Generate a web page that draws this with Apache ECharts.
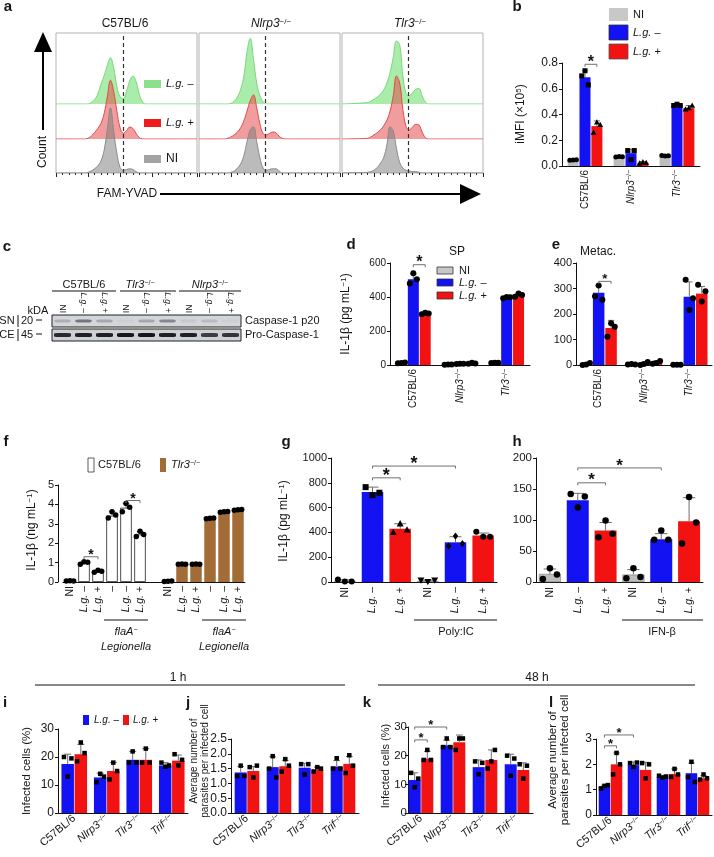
<!DOCTYPE html>
<html><head><meta charset="utf-8">
<script src="https://cdn.jsdelivr.net/npm/echarts@6/dist/echarts.min.js"></script>
<style>html,body{margin:0;padding:0;background:#fff}#c{width:714px;height:857px}</style>
</head><body><div id="c"></div>
<script>
// ---------------- DATA ----------------
// panel a: flow histograms (log decades bins, relative counts)
const aStrains = ['C57BL/6', 'Nlrp3−/−', 'Tlr3−/−'];
const aBins = [0,0.8,0.9,1.0,1.1,1.2,1.3,1.4,1.5,1.6,1.7,1.8,1.9,2.0,2.1,2.2,2.3,2.4,2.5,2.6,2.7,2.8,2.9,3.0,3.1,3.2,4.4];
const aGreen = [
  [0, 0,0,0,2,6,14,28,40,55,66,52,25,10,8,18,33,40,32,14,3,0,0,0,0,0, 0],
  [0, 0,0,1,4,10,21,40,75,94,64,30,12,3,0,0,0,0,0,0,0,0,0,0,0,0, 0],
  [0, 2,4,7,10,14,20,30,45,67,90,85,40,15,12,16,21,22,12,3,0,0,0,0,0,0, 0]
];
const aRed = [
  [0, 0,0,1,4,9,15,22,36,60,84,68,40,16,8,12,17,15,8,2,0,0,0,0,0,0, 0],
  [0, 0,1,3,6,10,16,26,40,55,63,45,22,8,6,8,10,9,4,1,0,0,0,0,0,0, 0],
  [0, 1,3,6,9,13,19,27,40,62,90,80,42,18,13,17,21,20,10,2,0,0,0,0,0,0, 0]
];
const aGrey = [
  [0, 0,0,1,3,6,10,17,32,62,93,60,28,8,4,5,6,5,2,0,0,0,0,0,0,0, 0],
  [0, 0,0,1,3,7,13,25,45,62,66,45,22,7,4,5,6,6,3,0,0,0,0,0,0,0, 0],
  [0, 1,2,4,8,14,22,40,66,60,35,15,7,4,3,2,2,1,0,0,0,0,0,0,0,0, 0]
];
const aGate = [2.1, 2.07, 2.07];

// panel b
const bCats = ['C57BL/6', 'Nlrp3−/−', 'Tlr3−/−'];
const bNI = [0.045, 0.072, 0.080], bNISd = [0.004, 0.004, 0.006];
const bNIPts = [[0.044,0.046,0.048],[0.070,0.074,0.072],[0.082,0.078,0.080]];
const bNeg = [0.69, 0.10, 0.47], bNegSd = [0.05, 0.03, 0.01];
const bNegPts = [[0.70,0.74,0.63],[0.12,0.05,0.12],[0.47,0.48,0.47]];
const bPos = [0.31, 0.025, 0.45], bPosSd = [0.04, 0.01, 0.02];
const bPosPts = [[0.26,0.34,0.32],[0.02,0.03,0.025],[0.44,0.45,0.47]];

// panel c: blot band intensities (lanes)
const cLanes = ['NI','L.g. –','L.g. +','NI','L.g. –','L.g. +','NI','L.g. –','L.g. +'];
const cKDa = [20, 45];
const cP20 = [0.30, 0.75, 0.35, 0.05, 0.35, 0.6, 0.1, 0.2, 0.05];
const cPro = [0.85, 0.9, 0.9, 0.95, 0.95, 0.9, 0.9, 0.75, 0.8];

// panel d (SP)
const dCats = ['C57BL/6', 'Nlrp3−/−', 'Tlr3−/−'];
const dNI = [12, 3, 13], dNISd = [2, 1, 1], dNIPts = [[10,12,15],[2,3,3],[12,13,13]];
const dNeg = [505, 7, 398], dNegSd = [30, 1, 3], dNegPts = [[480,540,505],[6,8,7],[392,400,398]];
const dPos = [303, 10, 410], dPosSd = [5, 3, 12], dPosPts = [[298,308,303],[8,13,9],[402,420,412]];

// panel e (Metac.)
const eNI = [3, 3, 1], eNISd = [4, 2, 0], eNIPts = [[0,2,8],[2,4,2],[1,1,1]];
const eNeg = [283, 5, 268], eNegSd = [28, 6, 58], eNegPts = [[270,312,256],[0,4,12],[334,216,262]];
const ePos = [145, 10, 280], ePosSd = [30, 6, 28], ePosPts = [[111,164,150],[5,8,16],[315,249,289]];

// panel f
const fCats = ['NI','L.g. –','L.g. +','–','L.g. –','L.g. +','','NI','L.g. –','L.g. +','–','L.g. –','L.g. +'];
const fStrain = [0,0,0,0,0,0,0,1,1,1,1,1,1];
const fVals = [0.05,0.97,0.55,3.42,3.83,2.45,null,0.04,0.92,0.92,3.28,3.62,3.72];
const fSd = [0.01,0.07,0.05,0.2,0.22,0.14,null,0.01,0.01,0.01,0.02,0.03,0.03];
const fPts = [[0.05,0.06,0.05],[0.92,1.05,1.02],[0.5,0.6,0.55],[3.3,3.62,3.45],[3.62,4.05,3.85],[2.35,2.62,2.45],null,
              [0.03,0.04,0.05],[0.92,0.93,0.92],[0.92,0.93,0.92],[3.26,3.28,3.3],[3.6,3.62,3.64],[3.7,3.72,3.74]];

// panel g (Poly:IC)
const gCats = ['NI','L.g. –','L.g. +','NI','L.g. –','L.g. +'];
const gCond = [0,1,2,0,1,2];
const gVals = [10, 725, 430, 8, 320, 375];
const gSd = [8, 40, 40, 6, 45, 20];
const gPts = [[20,5,5],[765,700,720],[400,470,420],[15,3,15],[290,370,310],[405,365,365]];
const gShapes = ['circle','rect','triangle','triangleDown','diamond','circle'];

// panel h (IFN-β)
const hCats = ['NI','L.g. –','L.g. +','NI','L.g. –','L.g. +'];
const hCond = [0,1,2,0,1,2];
const hVals = [13, 132, 83, 12, 69, 98];
const hSd = [8, 11, 13, 8, 9, 38];
const hPts = [[5,22,12],[142,120,138],[72,99,78],[6,22,8],[68,83,68],[62,137,96]];

// panels i-l
const ijCats = ['C57BL/6','Nlrp3−/−','Tlr3−/−','Trif−/−'];
const iNeg = [17.5, 12.7, 19, 17], iNegSd = [3.5, 1.5, 3, 1];
const iNegPts = [[20,13,19.5],[11,14,13],[18,22,18],[18,16.5,17]];
const iPos = [21, 15, 19, 18.7], iPosSd = [3.5, 3, 4, 2];
const iPosPts = [[18.5,25.2,21.4],[12,18,15],[18,23,18],[21,17,19]];

const jNeg = [1.37, 1.55, 1.53, 1.57], jNegSd = [0.2, 0.35, 0.15, 0.2];
const jNegPts = [[1.25,1.6,1.25],[1.5,1.92,1.2],[1.65,1.3,1.65],[1.5,1.85,1.5]];
const jPos = [1.42, 1.58, 1.47, 1.66], jPosSd = [0.15, 0.2, 0.08, 0.25];
const jPosPts = [[1.55,1.2,1.6],[1.4,1.82,1.6],[1.4,1.55,1.5],[1.35,1.95,1.6]];

const kNeg = [11.5, 23.6, 16, 17], kNegSd = [2.5, 1.8, 2.5, 3.5];
const kNegPts = [[14,9,12],[23,26,23],[18,13.5,17.5],[20,13,19]];
const kPos = [19, 24.7, 18.5, 15], kPosSd = [2.5, 2.5, 3.5, 2.5];
const kPosPts = [[18.5,22,18.5],[22,26,26],[15.5,18,22],[17,12,16.5]];

const lNeg = [1.12, 1.97, 1.5, 1.65], lNegSd = [0.05, 0.12, 0.05, 0.4];
const lNegPts = [[1.05,1.15,1.18],[2.05,1.9,2.07],[1.55,1.48,1.52],[1.5,2.1,1.3]];
const lPos = [2.0, 1.78, 1.62, 1.45], lPosSd = [0.45, 0.3, 0.2, 0.1];
const lPosPts = [[1.6,2.45,2.0],[2.05,1.45,2.0],[1.5,1.82,1.6],[1.4,1.6,1.45]];

// ---------------- STYLE ----------------
const FONT = '"Liberation Sans", Arial, Helvetica, sans-serif';
const TXT = '#161616';
const C_NI = '#bdbdbd', C_NEG = '#1212f2', C_POS = '#f21212', C_BROWN = '#a36c37';
const condStyle = [
  {color:C_NI, borderColor:'#777', borderWidth:0.6},
  {color:C_NEG}, {color:C_POS}
];
const strainStyle = [{color:'#ffffff', borderColor:'#222', borderWidth:0.8}, {color:C_BROWN}];

function richFor(fs){
  return {
    i:{fontStyle:'italic', fontSize:fs, fontFamily:FONT, color:TXT},
    s:{fontSize:Math.round(fs*0.66), fontFamily:FONT, color:TXT, verticalAlign:'top'}
  };
}
function fmt(s){
  if (!s) return '';
  const m = s.match(/^(.*)−\/−$/);
  if (m) return '{i|' + m[1] + '}{s|−/−}';
  if (s.indexOf('L.g.') === 0) return '{i|L.g.}' + s.slice(4);
  return s;
}
function fmtBlot(s){ return fmt(s).replace('} ', '}\u2009'); }

const grids = [], xAxes = [], yAxes = [], series = [], graphic = [];
function addGrid(rect, xa, ya){
  grids.push(Object.assign({outerBoundsMode:'none', containLabel:false}, rect));
  const gi = grids.length - 1;
  xAxes.push(Object.assign({gridIndex:gi}, xa));
  yAxes.push(Object.assign({gridIndex:gi}, ya));
  return gi;
}
function T(text, x, y, fs, o){
  o = o || {};
  return {type:'text', x:x, y:y, rotation:o.rot||0, silent:true, z:20,
    style:{text:text, fill:TXT, fontSize:fs, fontFamily:FONT, fontWeight:o.bold?'bold':'normal',
      fontStyle:o.italic?'italic':'normal', align:o.align||'center', verticalAlign:'middle',
      lineHeight:o.lh||undefined, rich:richFor(fs)}};
}
function L(x1,y1,x2,y2,w,col){
  return {type:'line', silent:true, z:20, shape:{x1:x1,y1:y1,x2:x2,y2:y2}, style:{stroke:col||'#111', lineWidth:w||1}};
}
function R(x,y,w,h,fill,stroke){
  return {type:'rect', silent:true, z:20, shape:{x:x,y:y,width:w,height:h}, style:{fill:fill, stroke:stroke||null, lineWidth:stroke?0.8:0}};
}
function marker(shape, x, y, s){
  const st = {fill:'#000'};
  if (shape === 'rect') return {type:'rect', shape:{x:x-s/2, y:y-s/2, width:s, height:s}, style:st};
  if (shape === 'triangle') return {type:'polygon', shape:{points:[[x,y-s*0.62],[x-s*0.58,y+s*0.45],[x+s*0.58,y+s*0.45]]}, style:st};
  if (shape === 'triangleDown') return {type:'polygon', shape:{points:[[x,y+s*0.62],[x-s*0.58,y-s*0.45],[x+s*0.58,y-s*0.45]]}, style:st};
  if (shape === 'diamond') return {type:'polygon', shape:{points:[[x,y-s*0.6],[x+s*0.45,y],[x,y+s*0.6],[x-s*0.45,y]]}, style:st};
  return {type:'circle', shape:{cx:x, cy:y, r:s/2}, style:st};
}
function offsetOf(P, s){ const n = P.series.length; return (s - (n-1)/2) * P.bw * (1 + P.gap); }
function dotsRender(P){
  return function(params, api){
    const c = api.value(0), s = api.value(1);
    const S = P.series[s];
    const v = S.vals[c];
    const base = api.coord([c, v]);
    const x = base[0] + offsetOf(P, s);
    const ch = [];
    const sd = S.sd && S.sd[c];
    if (sd) {
      const top = api.coord([c, v + sd])[1];
      ch.push({type:'line', shape:{x1:x, y1:base[1], x2:x, y2:top}, style:{stroke:'#6e6e6e', lineWidth:1}});
      ch.push({type:'line', shape:{x1:x-P.bw*0.28, y1:top, x2:x+P.bw*0.28, y2:top}, style:{stroke:'#6e6e6e', lineWidth:1}});
    }
    const pts = S.pts && S.pts[c];
    if (pts) pts.forEach(function(p, k){
      const y = api.coord([c, p])[1];
      const px = x + (k - (pts.length-1)/2) * P.bw * P.jitter;
      const shape = Array.isArray(S.shape) ? S.shape[c] : S.shape;
      ch.push(marker(shape, px, y, P.dot));
    });
    return {type:'group', children:ch};
  };
}
function sigRender(P){
  return function(params, api){
    const c1 = api.value(0), s1 = api.value(1), c2 = api.value(2), s2 = api.value(3), yv = api.value(4);
    const p1 = api.coord([c1, yv]), p2 = api.coord([c2, yv]);
    const x1 = p1[0] + offsetOf(P, s1), x2 = p2[0] + offsetOf(P, s2), y = p1[1];
    const st = {stroke:'#707070', lineWidth:1};
    return {type:'group', children:[
      {type:'line', shape:{x1:x1, y1:y, x2:x2, y2:y}, style:st},
      {type:'line', shape:{x1:x1, y1:y, x2:x1, y2:y+2.5}, style:st},
      {type:'line', shape:{x1:x2, y1:y, x2:x2, y2:y+2.5}, style:st},
      {type:'text', x:(x1+x2)/2, y:y - P.star*0.12, style:{text:'*', fill:'#111', fontSize:P.star, fontWeight:'bold', fontFamily:FONT, align:'center', verticalAlign:'middle'}}
    ]};
  };
}
function barPanel(P){
  const gi = addGrid(P.grid, {
    type:'category', data:P.cats, boundaryGap:true,
    axisLine:{show:true, lineStyle:{color:'#111', width:1}},
    axisTick:{show:false}, splitLine:{show:false},
    axisLabel:{interval:0, rotate:P.rotate, fontSize:P.xfs, fontFamily:FONT, color:TXT, margin:P.xmargin||4, formatter:fmt, rich:richFor(P.xfs)}
  }, {
    type:'value', min:P.y.min, max:P.y.max, interval:P.y.interval, offset:P.yOffset||0,
    axisLine:{show:true, lineStyle:{color:'#111', width:1}},
    axisTick:{show:true, length:3, lineStyle:{color:'#111'}},
    splitLine:{show:false},
    axisLabel:{fontSize:P.y.fs, fontFamily:FONT, color:TXT, margin:P.y.margin||4, formatter:function(v){return v.toFixed(P.y.dec||0);}}
  });
  P.series.forEach(function(S){
    series.push({type:'bar', name:S.name, xAxisIndex:gi, yAxisIndex:gi, barWidth:P.bw, barGap:(P.gap*100)+'%',
      silent:true, z:2, animation:false,
      itemStyle:{color:S.color||'#ccc', borderColor:S.border||'#000', borderWidth:S.border?0.8:0},
      data:S.vals.map(function(v,c){ return v == null ? '-' : (S.styles ? {value:v, itemStyle:S.styles[c]} : v); })});
  });
  const dd = [];
  P.cats.forEach(function(_, c){ P.series.forEach(function(S, s){ if (S.vals[c] != null) dd.push([c, s, S.vals[c]]); }); });
  series.push({type:'custom', xAxisIndex:gi, yAxisIndex:gi, data:dd, encode:{x:0, y:2}, renderItem:dotsRender(P), z:5, silent:true, clip:false, animation:false});
  if (P.sig) series.push({type:'custom', xAxisIndex:gi, yAxisIndex:gi, data:P.sig, encode:{x:0, y:4}, renderItem:sigRender(P), z:6, silent:true, clip:false, animation:false});
  return gi;
}

// ---------------- PANEL a ----------------
const aLeft = [56, 199, 342];
const hidX = {type:'value', min:0, max:4.4, show:false};
function curve(gi, data, line, area, extra){
  return Object.assign({type:'line', xAxisIndex:gi, yAxisIndex:gi, smooth:0.4, symbol:'none', silent:true, animation:false,
    data:aBins.map(function(b,i){ return [b, data[i]]; }),
    lineStyle:{color:line, width:1}, areaStyle:{color:area, opacity:1}}, extra||{});
}
aStrains.forEach(function(st, k){
  const Lx = aLeft[k];
  const gBox = addGrid({left:Lx, top:33, width:141, height:140, show:true, borderColor:'#b3b3b3', borderWidth:1, backgroundColor:'rgba(0,0,0,0)'},
    {type:'value', min:0, max:4.4, interval:1, axisLine:{show:false}, axisLabel:{show:false}, splitLine:{show:false},
     axisTick:{show:true, inside:false, length:4, lineStyle:{color:'#222'}},
     minorTick:{show:true, splitNumber:5, length:2, lineStyle:{color:'#222'}}, minorSplitLine:{show:false}},
    {type:'value', min:0, max:200, show:false});
  const gG = addGrid({left:Lx, top:34, width:141, height:70}, Object.assign({}, hidX), {type:'value', min:0, max:100, show:false});
  const gR = addGrid({left:Lx, top:69, width:141, height:70}, Object.assign({}, hidX), {type:'value', min:0, max:100, show:false});
  series.push(curve(gG, aGreen[k], '#7cd67c', 'rgba(100,220,100,0.55)'));
  series.push(curve(gR, aRed[k], '#e04a4a', 'rgba(230,60,60,0.5)'));
  series.push(curve(gBox, aGrey[k], '#8a8a8a', 'rgba(120,120,120,0.5)', {
    markLine:{silent:true, symbol:['none','none'], label:{show:false}, animation:false,
      lineStyle:{type:[4,3], color:'#333', width:1.2}, data:[{xAxis:aGate[k]}]}}));
});
graphic.push(T('a', 8, 7, 15, {bold:true}));
graphic.push(T('C57BL/6', 125, 24, 12));
graphic.push(T(fmt(aStrains[1]), 271, 24, 12));
graphic.push(T(fmt(aStrains[2]), 410, 24, 12));
graphic.push(T('Count', 43, 152, 12, {rot:Math.PI/2}));
graphic.push(L(43, 52, 43, 130, 2, '#000'));
graphic.push({type:'polygon', silent:true, z:20, shape:{points:[[43,32],[34,52],[52,52]]}, style:{fill:'#000'}});
graphic.push(T('FAM-YVAD', 127, 194, 12));
graphic.push(L(160, 194, 462, 194, 2, '#000'));
graphic.push({type:'polygon', silent:true, z:20, shape:{points:[[481,194],[460,184],[460,204]]}, style:{fill:'#000'}});
graphic.push(R(144, 80, 17, 8, '#8be08b'));
graphic.push(T(fmt('L.g. –'), 166, 84, 11, {align:'left'}));
graphic.push(R(144, 119, 17, 8, '#ee1c1c'));
graphic.push(T(fmt('L.g. +'), 166, 123, 11, {align:'left'}));
graphic.push(R(144, 155, 17, 8, '#a3a3a3'));
graphic.push(T('NI', 166, 159, 12, {align:'left'}));

// ---------------- PANEL b ----------------
barPanel({grid:{left:562, top:63, width:138, height:103}, cats:bCats,
  y:{min:0, max:0.8, interval:0.2, dec:1, fs:12}, xfs:10, rotate:90, bw:11, gap:0.08, dot:5, jitter:0.3, star:16,
  series:[
    {name:'NI', color:C_NI, vals:bNI, sd:bNISd, pts:bNIPts, shape:'circle'},
    {name:'L.g. –', color:C_NEG, vals:bNeg, sd:bNegSd, pts:bNegPts, shape:'rect'},
    {name:'L.g. +', color:C_POS, vals:bPos, sd:bPosSd, pts:bPosPts, shape:'triangle'}],
  sig:[[0,1,0,2,0.79]]});
graphic.push(T('b', 517, 7, 15, {bold:true}));
graphic.push(T('iMFI (×10{s|5})', 521, 114, 12, {rot:Math.PI/2}));
graphic.push(R(609, 8, 19, 13, '#c8c8c8'));
graphic.push(T('NI', 633, 15, 11, {align:'left'}));
graphic.push(R(609, 25, 19, 15, C_NEG, '#333'));
graphic.push(T(fmt('L.g. –'), 633, 33, 11, {align:'left'}));
graphic.push(R(609, 44, 19, 15, C_POS, '#555'));
graphic.push(T(fmt('L.g. +'), 633, 52, 11, {align:'left'}));

// ---------------- PANEL c (blot) ----------------
const gBlot1 = addGrid({left:52, top:315, width:189, height:12, show:true, borderColor:'#222', borderWidth:1, backgroundColor:'#d2d5d9'},
  {type:'category', data:cLanes, position:'top', axisLine:{show:false}, axisTick:{show:false},
   axisLabel:{interval:0, rotate:90, margin:2, fontSize:8.5, fontFamily:FONT, color:TXT, formatter:fmtBlot, rich:richFor(8.5)}},
  {type:'value', min:cKDa[0]-2, max:cKDa[0]+2, show:false});
const gBlot2 = addGrid({left:52, top:329, width:189, height:12, show:true, borderColor:'#222', borderWidth:1, backgroundColor:'#cdd0d4'},
  {type:'category', data:cLanes, show:false},
  {type:'value', min:cKDa[1]-2, max:cKDa[1]+2, show:false});
series.push({type:'scatter', xAxisIndex:gBlot1, yAxisIndex:gBlot1, symbol:'roundRect', symbolSize:[16,3], silent:true, animation:false,
  data:cP20.map(function(v,i){ return {value:[i, cKDa[0]], itemStyle:{color:'#2a2a3a', opacity:v*0.75}}; })});
series.push({type:'scatter', xAxisIndex:gBlot2, yAxisIndex:gBlot2, symbol:'roundRect', symbolSize:[17,4], silent:true, animation:false,
  data:cPro.map(function(v,i){ return {value:[i, cKDa[1]], itemStyle:{color:'#0c0c10', opacity:v}}; })});
graphic.push(T('c', 7, 247, 15, {bold:true}));
graphic.push(T('C57BL/6', 84, 285, 11));
graphic.push(L(52, 291, 116, 291, 1));
graphic.push(T(fmt('Tlr3−/−'), 140, 285, 11));
graphic.push(L(120, 291, 176, 291, 1));
graphic.push(T(fmt('Nlrp3−/−'), 210, 285, 11));
graphic.push(L(179, 291, 241, 291, 1));
graphic.push(T('kDA', 38, 311, 11));
graphic.push(T('SN', 7, 321, 11));
graphic.push(L(18, 315, 18, 327, 1));
graphic.push(T(String(cKDa[0]), 27, 321, 11));
graphic.push(L(36, 320, 42, 320, 1));
graphic.push(T('CE', 7, 335, 11));
graphic.push(L(18, 329, 18, 341, 1));
graphic.push(T(String(cKDa[1]), 27, 335, 11));
graphic.push(L(36, 334, 42, 334, 1));
graphic.push(T('Caspase-1 p20', 245, 321, 11, {align:'left'}));
graphic.push(T('Pro-Caspase-1', 245, 335, 11, {align:'left'}));

// ---------------- PANEL d ----------------
barPanel({grid:{left:390, top:263, width:140, height:102}, cats:dCats,
  y:{min:0, max:600, interval:200, fs:10}, xfs:10, rotate:90, bw:11, gap:0.08, dot:6, jitter:0.32, star:16,
  series:[
    {name:'NI', color:C_NI, border:'#666', vals:dNI, sd:dNISd, pts:dNIPts, shape:'circle'},
    {name:'L.g. –', color:C_NEG, vals:dNeg, sd:dNegSd, pts:dNegPts, shape:'circle'},
    {name:'L.g. +', color:C_POS, vals:dPos, sd:dPosSd, pts:dPosPts, shape:'circle'}],
  sig:[[0,1,0,2,590]]});
graphic.push(T('d', 351, 245, 15, {bold:true}));
graphic.push(T('SP', 457, 252, 12));
graphic.push(T('IL-1β (pg mL{s|−1})', 346, 314, 12, {rot:Math.PI/2}));
graphic.push(R(437, 267, 16, 7, '#c8c8c8', '#333'));
graphic.push(T('NI', 459, 270.5, 11, {align:'left'}));
graphic.push(R(437, 279, 16, 7, C_NEG, '#333'));
graphic.push(T(fmt('L.g. –'), 459, 282.5, 11, {align:'left'}));
graphic.push(R(437, 292, 16, 7, C_POS, '#333'));
graphic.push(T(fmt('L.g. +'), 459, 295.5, 11, {align:'left'}));

// ---------------- PANEL e ----------------
barPanel({grid:{left:576, top:263, width:136, height:102}, cats:dCats,
  y:{min:0, max:400, interval:100, fs:11}, xfs:10, rotate:90, bw:11.5, gap:0.08, dot:6, jitter:0.32, star:13,
  series:[
    {name:'NI', color:C_NI, vals:eNI, sd:eNISd, pts:eNIPts, shape:'circle'},
    {name:'L.g. –', color:C_NEG, vals:eNeg, sd:eNegSd, pts:eNegPts, shape:'circle'},
    {name:'L.g. +', color:C_POS, vals:ePos, sd:ePosSd, pts:ePosPts, shape:'circle'}],
  sig:[[0,1,0,2,328]]});
graphic.push(T('e', 556, 245, 15, {bold:true}));
graphic.push(T('Metac.', 598, 252, 12));

// ---------------- PANEL f ----------------
barPanel({grid:{left:63, top:485, width:182, height:97}, cats:fCats, yOffset:5,
  y:{min:0, max:5, interval:1, fs:11}, xfs:10.5, rotate:90, xmargin:4, bw:11.5, gap:0, dot:5.5, jitter:0.32, star:14,
  series:[{name:'f', vals:fVals, sd:fSd, pts:fPts, shape:'circle', styles:fStrain.map(function(s){ return strainStyle[s]; })}],
  sig:[[1,0,2,0,1.3],[4,0,5,0,4.2]]});
graphic.push(T('f', 6, 442, 15, {bold:true}));
graphic.push(T('IL-1β (ng mL{s|−1})', 32, 530, 12, {rot:Math.PI/2}));
graphic.push(R(88, 458, 6, 14, '#ffffff', '#333'));
graphic.push(T('C57BL/6', 98, 465, 11, {align:'left'}));
graphic.push(R(160, 458, 6, 14, C_BROWN));
graphic.push(T(fmt('Tlr3−/−'), 171, 465, 11, {align:'left'}));
[126, 224].forEach(function(cx){
  graphic.push(L(cx-22, 620, cx+22, 620, 1));
  graphic.push(T('{i|flaA}{s|−}', cx, 632, 11));
  graphic.push(T('Legionella', cx, 647, 11, {italic:true}));
});

// ---------------- PANEL g ----------------
barPanel({grid:{left:331, top:458, width:166, height:124}, cats:gCats,
  y:{min:0, max:1000, interval:200, fs:11}, xfs:10.5, rotate:90, xmargin:5, bw:21.5, gap:0, dot:6, jitter:0.32, star:18,
  series:[{name:'g', vals:gVals, sd:gSd, pts:gPts, shape:gShapes, styles:gCond.map(function(c){ return condStyle[c]; })}],
  sig:[[1,0,2,0,840],[1,0,4,0,935]]});
graphic.push(T('g', 286, 442, 15, {bold:true}));
graphic.push(T('IL-1β (pg mL{s|−1})', 284, 521, 12, {rot:Math.PI/2}));
graphic.push(L(414, 620, 497, 620, 1));
graphic.push(T('Poly:IC', 456, 632, 11));

// ---------------- PANEL h ----------------
barPanel({grid:{left:536, top:458, width:167, height:124}, cats:hCats,
  y:{min:0, max:200, interval:50, fs:11.5}, xfs:10.5, rotate:90, xmargin:5, bw:22, gap:0, dot:6.5, jitter:0.32, star:17,
  series:[{name:'h', vals:hVals, sd:hSd, pts:hPts, shape:'circle', styles:hCond.map(function(c){ return condStyle[c]; })}],
  sig:[[1,0,2,0,160],[1,0,4,0,184]]});
graphic.push(T('h', 517, 442, 15, {bold:true}));
graphic.push(L(622, 620, 703, 620, 1));
graphic.push(T('IFN-β', 662, 632, 11));

// ---------------- PANELS i-l ----------------
graphic.push(T('1 h', 178, 678, 12));
graphic.push(L(35, 685, 345, 685, 1));
graphic.push(T('48 h', 537, 678, 12));
graphic.push(L(378, 685, 695, 685, 1));

barPanel({grid:{left:58, top:729, width:130, height:84}, cats:ijCats,
  y:{min:0, max:30, interval:10, fs:12}, xfs:11, rotate:40, bw:12.5, gap:0.05, dot:4.5, jitter:0.3, star:13,
  series:[
    {name:'L.g. –', color:C_NEG, vals:iNeg, sd:iNegSd, pts:iNegPts, shape:'rect'},
    {name:'L.g. +', color:C_POS, vals:iPos, sd:iPosSd, pts:iPosPts, shape:'rect'}]});
graphic.push(T('i', 5, 703, 15, {bold:true}));
graphic.push(T('Infected cells (%)', 27, 771, 11.5, {rot:Math.PI/2}));
graphic.push(R(83, 715, 6, 10, C_NEG));
graphic.push(T(fmt('L.g. –'), 94, 720, 10, {align:'left'}));
graphic.push(R(123, 715, 6, 10, C_POS));
graphic.push(T(fmt('L.g. +'), 133, 720, 10, {align:'left'}));

barPanel({grid:{left:231, top:739, width:128, height:74}, cats:ijCats,
  y:{min:0, max:2.5, interval:0.5, dec:1, fs:12}, xfs:11, rotate:40, bw:12, gap:0.05, dot:4.5, jitter:0.3, star:13,
  series:[
    {name:'L.g. –', color:C_NEG, vals:jNeg, sd:jNegSd, pts:jNegPts, shape:'rect'},
    {name:'L.g. +', color:C_POS, vals:jPos, sd:jPosSd, pts:jPosPts, shape:'rect'}]});
graphic.push(T('j', 188, 703, 15, {bold:true}));
graphic.push(T('Average number of\nparasites per infected cell', 200, 761, 10, {rot:Math.PI/2, lh:11}));

barPanel({grid:{left:405, top:727, width:128, height:86}, cats:ijCats, yOffset:-3,
  y:{min:0, max:30, interval:10, fs:11.5, margin:1}, xfs:11, rotate:40, bw:12, gap:0.05, dot:4.5, jitter:0.3, star:13,
  series:[
    {name:'L.g. –', color:C_NEG, vals:kNeg, sd:kNegSd, pts:kNegPts, shape:'rect'},
    {name:'L.g. +', color:C_POS, vals:kPos, sd:kPosSd, pts:kPosPts, shape:'rect'}],
  sig:[[0,0,0,1,25.5],[0,0,1,0,30]]});
graphic.push(T('k', 367, 703, 15, {bold:true}));
graphic.push(T('Infected cells (%)', 386, 766, 11, {rot:Math.PI/2}));

barPanel({grid:{left:596, top:739, width:116, height:76}, cats:ijCats,
  y:{min:0, max:3, interval:1, fs:12}, xfs:11, rotate:40, bw:11.5, gap:0.05, dot:4.5, jitter:0.3, star:13,
  series:[
    {name:'L.g. –', color:C_NEG, vals:lNeg, sd:lNegSd, pts:lNegPts, shape:'rect'},
    {name:'L.g. +', color:C_POS, vals:lPos, sd:lPosSd, pts:lPosPts, shape:'rect'}],
  sig:[[0,0,0,1,2.73],[0,0,1,0,3.16]]});
graphic.push(T('l', 551, 703, 15, {bold:true}));
graphic.push(T('Average number of\nparasites per infected cell', 559, 760, 11.5, {rot:Math.PI/2, lh:12}));

// ---------------- RENDER ----------------
const chart = echarts.init(document.getElementById('c'), null, {renderer:'canvas', width:714, height:857});
chart.setOption({
  animation:false,
  backgroundColor:'#ffffff',
  textStyle:{fontFamily:FONT, color:TXT},
  grid:grids, xAxis:xAxes, yAxis:yAxes, series:series,
  graphic:{elements:graphic}
});
</script></body></html>
